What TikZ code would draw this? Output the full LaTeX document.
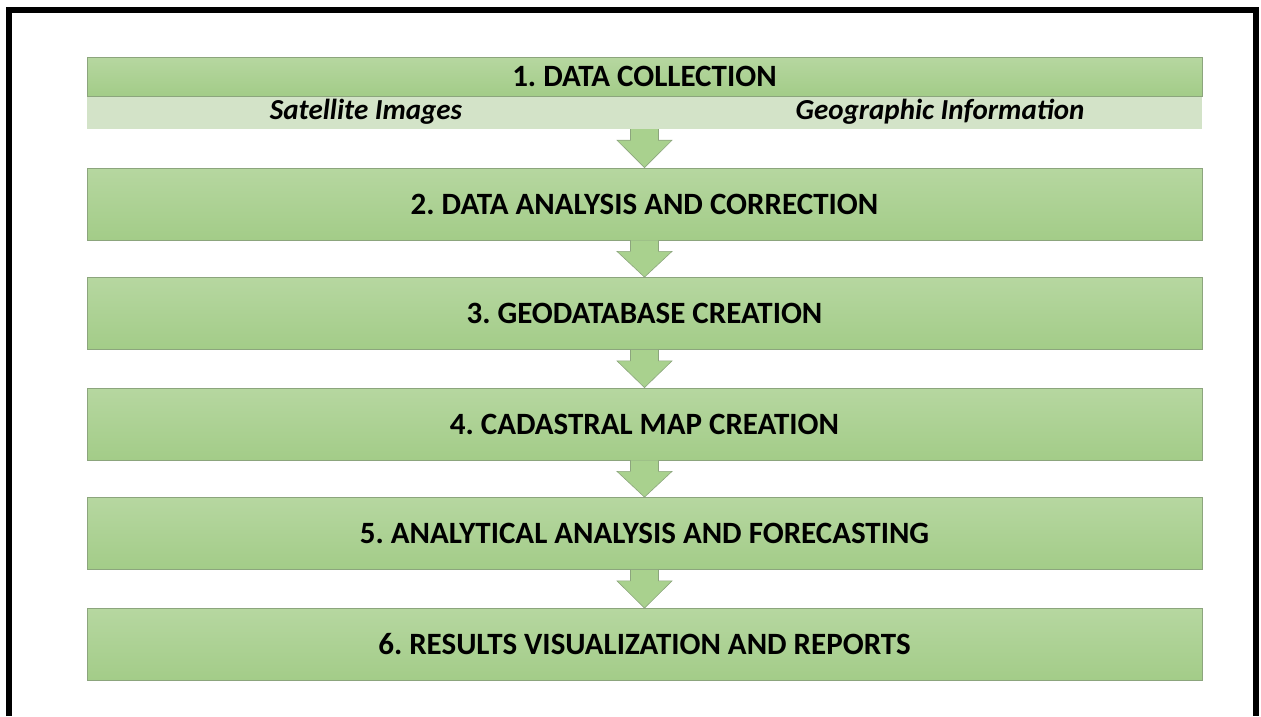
\documentclass[tikz,border=0pt]{standalone}
\usepackage{fontspec}
\setmainfont{Carlito}
\usetikzlibrary{calc}
\definecolor{boxgreen}{RGB}{169,209,142}
\definecolor{boxtop}{RGB}{182,215,160}
\definecolor{boxbot}{RGB}{163,204,136}
\definecolor{bandgreen}{RGB}{211,227,200}
\definecolor{edgegreen}{RGB}{140,165,125}
\frenchspacing
\begin{document}
\begin{tikzpicture}[x=1pt,y=-1pt]
    \tikzstyle{stage} = [rectangle, draw=edgegreen, line width=0.8pt, top color=boxtop, bottom color=boxbot, minimum width=1115pt, minimum height=72pt, inner sep=0pt, text centered, font=\fontsize{31}{36}\selectfont\bfseries]
    \tikzstyle{band} = [rectangle, fill=bandgreen, minimum width=1115pt, minimum height=33pt, inner sep=0pt]
    \tikzstyle{sub} = [inner sep=0pt, font=\fontsize{29}{34}\selectfont\bfseries\itshape]
    \tikzstyle{flow} = [fill=boxgreen, draw=edgegreen, line width=0.6pt, line join=miter]

    \useasboundingbox (0,0) rectangle (1261,716);
    \draw[line width=6.5pt] (9,716) -- (9,10) -- (1256,10) -- (1256,716);

      \draw
        (644.5,112.5) node[band] (band){}
        (644.5,76.5) node[stage, minimum height=39pt] (hdr){1. DATA COLLECTION}
        (366,112) node[sub] (sat){Satellite Images}
        (940,112) node[sub] (geo){Geographic Information}
        (644.5,204) node[stage] (box2){2. DATA ANALYSIS AND CORRECTION}
        (644.5,313.5) node[stage] (box3){3. GEODATABASE CREATION}
        (644.5,424) node[stage] (box4){4. CADASTRAL MAP CREATION}
        (644.5,533.5) node[stage] (box5){5. ANALYTICAL ANALYSIS AND FORECASTING}
        (644.5,644.5) node[stage] (box6){6. RESULTS VISUALIZATION AND REPORTS};

      \begin{scope}
        \foreach \a/\b in {band/box2, box2/box3, box3/box4, box4/box5, box5/box6}
          \draw[flow] ($(\a.south)+(-14,0)$) -- ($(\a.south)+(-14,11)$) -- ($(\a.south)+(-27.5,11)$)
            -- (\b.north) -- ($(\a.south)+(27.5,11)$) -- ($(\a.south)+(14,11)$) -- ($(\a.south)+(14,0)$);
      \end{scope}
    \end{tikzpicture}
\end{document}
